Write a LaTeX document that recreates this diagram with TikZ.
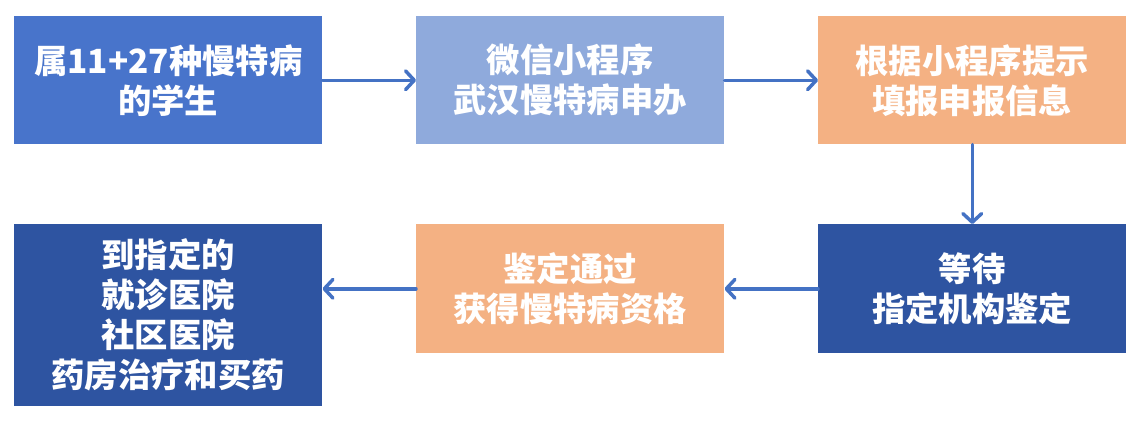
\documentclass[tikz,border=0pt]{standalone}
\usepackage{fontspec}
\setmainfont{Noto Sans CJK SC}
\usetikzlibrary{arrows.meta}
\definecolor{cblue}{HTML}{4874CB}
\definecolor{clight}{HTML}{8FAADC}
\definecolor{corange}{HTML}{F4B183}
\definecolor{cdark}{HTML}{2E54A1}
\definecolor{carrow}{HTML}{4472C4}
\begin{document}
\begin{tikzpicture}[x=0.75pt,y=-0.75pt,
  box/.style={draw=none,anchor=north west,minimum width=231pt,inner sep=0pt,
    text=white,font=\bfseries\fontsize{25pt}{30pt}\selectfont,align=center},
  flow/.style={draw=carrow,line width=2.6pt,line cap=round,
    -{Straight Barb[length=6.5pt,width=14pt,line width=2.6pt,round]}}]
\useasboundingbox[fill=white] (0,0) rectangle (1144,422);
\node[box,fill=cblue,minimum height=96pt] (b1) at (14,16) {属11+27种慢特病\\的学生};
\node[box,fill=clight,minimum height=96pt] (b2) at (416,16) {微信小程序\\武汉慢特病申办};
\node[box,fill=corange,minimum height=96pt] (b3) at (818,16) {根据小程序提示\\填报申报信息};
\node[box,fill=cdark,minimum height=96.75pt] (b6) at (818,224) {等待\\指定机构鉴定};
\node[box,fill=corange,minimum height=96.75pt] (b5) at (416,224) {鉴定通过\\获得慢特病资格};
\node[box,fill=cdark,minimum height=136.5pt] (b4) at (14,224) {到指定的\\就诊医院\\社区医院\\药房治疗和买药};
\draw[flow] (b1.east) -- (b2.west);
\draw[flow] (b2.east) -- (b3.west);
\draw[flow] (b3.south) -- (b6.north);
\draw[flow] (b6.west) -- (b5.east);
\draw[flow] (b5.west) -- (b5.west -| b4.east);
\end{tikzpicture}
\end{document}
